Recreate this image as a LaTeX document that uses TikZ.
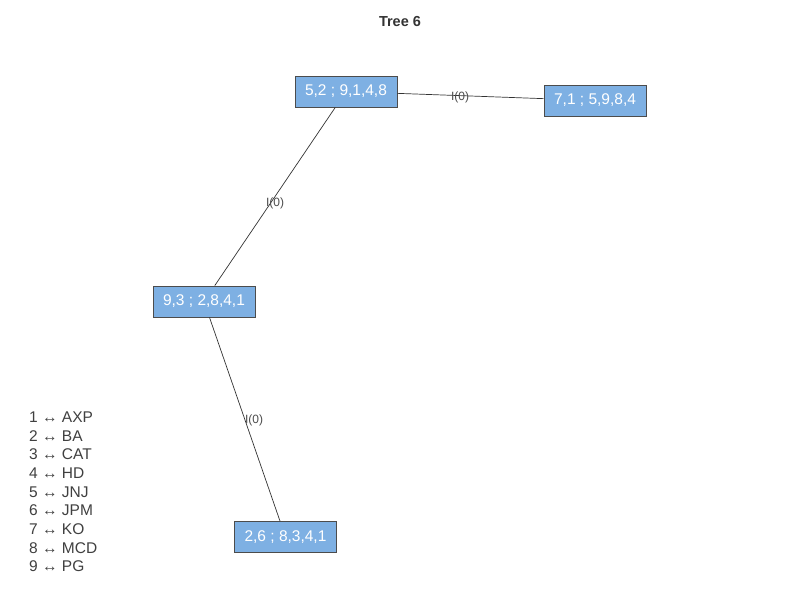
\documentclass[tikz,border=0pt]{standalone}
\usepackage{fontspec}
\setmainfont{Liberation Sans}
\begin{document}
\begin{tikzpicture}[x=1pt,y=-1pt,
  treebox/.style={draw=black!70, line width=0.9pt, fill=boxblue, text=white,
    minimum width=102pt, minimum height=31pt, inner sep=0pt,
    font=\fontsize{15.5}{18}\selectfont},
  edge/.style={draw=black!80, line width=0.7pt},
  elabel/.style={text=black!70, font=\fontsize{12}{14}\selectfont, inner sep=0pt},
  legend/.style={text=black!75, font=\fontsize{15.5}{18.7}\selectfont, anchor=west, inner sep=0pt}]
\definecolor{boxblue}{HTML}{7EB0E3}
\useasboundingbox (0,0) rectangle (800,600);
\fill[white] (0,0) rectangle (800,600);

\node[font=\bfseries\fontsize{14.5}{16}\selectfont, text=black!80] (title) at (400,22) {Tree 6};

\node[treebox] (a) at (346,91.5) {5,2 ; 9,1,4,8};
\node[treebox] (b) at (595,100.5) {7,1 ; 5,9,8,4};
\node[treebox] (c) at (204,301.5) {9,3 ; 2,8,4,1};
\node[treebox] (d) at (285.5,537) {2,6 ; 8,3,4,1};

\draw[edge] (a) -- (b);
\draw[edge] (a) -- (c);
\draw[edge] (c) -- (d);

\node[elabel] (lab) at (460,97) {I(0)};
\node[elabel] (lac) at (275,203) {I(0)};
\node[elabel] (lcd) at (254,420) {I(0)};

\node[legend] (k1) at (29,417) {1 ↔ AXP};
\node[legend] (k2) at (29,435.7) {2 ↔ BA};
\node[legend] (k3) at (29,454.4) {3 ↔ CAT};
\node[legend] (k4) at (29,473.1) {4 ↔ HD};
\node[legend] (k5) at (29,491.8) {5 ↔ JNJ};
\node[legend] (k6) at (29,510.5) {6 ↔ JPM};
\node[legend] (k7) at (29,529.2) {7 ↔ KO};
\node[legend] (k8) at (29,547.9) {8 ↔ MCD};
\node[legend] (k9) at (29,566.6) {9 ↔ PG};
\end{tikzpicture}
\end{document}
